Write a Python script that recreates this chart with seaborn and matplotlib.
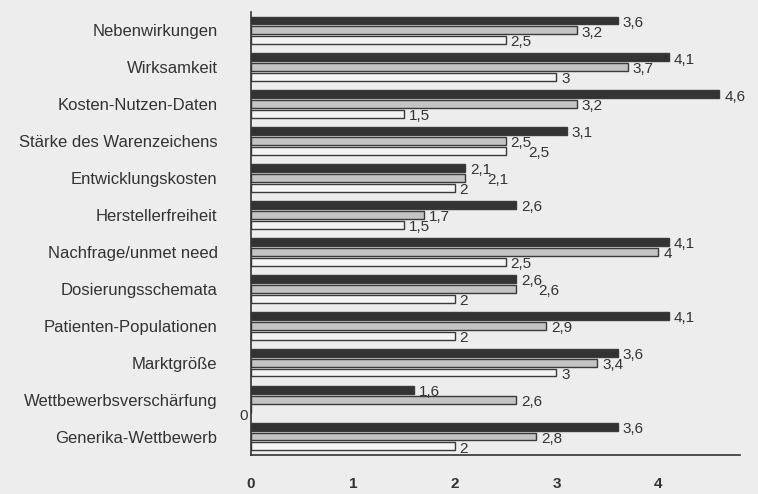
import matplotlib
matplotlib.use("Agg")
import matplotlib.pyplot as plt
import numpy as np
import pandas as pd
import seaborn as sns

categories = [
    "Nebenwirkungen",
    "Wirksamkeit",
    "Kosten-Nutzen-Daten",
    "Stärke des Warenzeichens",
    "Entwicklungskosten",
    "Herstellerfreiheit",
    "Nachfrage/unmet need",
    "Dosierungsschemata",
    "Patienten-Populationen",
    "Marktgröße",
    "Wettbewerbsverschärfung",
    "Generika-Wettbewerb",
]
series_names = ["Reihe 1", "Reihe 2", "Reihe 3"]
reihe_1 = [3.6, 4.1, 4.6, 3.1, 2.1, 2.6, 4.1, 2.6, 4.1, 3.6, 1.6, 3.6]
reihe_2 = [3.2, 3.7, 3.2, 2.5, 2.1, 1.7, 4.0, 2.6, 2.9, 3.4, 2.6, 2.8]
reihe_3 = [2.5, 3.0, 1.5, 2.5, 2.0, 1.5, 2.5, 2.0, 2.0, 3.0, 0.0, 2.0]
x_ticks = [0, 1, 2, 3, 4]

colors = ["#333333", "#c4c4c4", "#f4f4f4"]
bg = "#ededed"
ink = "#333333"

df = pd.DataFrame({
    "Kriterium": categories * 3,
    "Wert": reihe_1 + reihe_2 + reihe_3,
    "Reihe": [s for s in series_names for _ in categories],
})

sns.set_theme(style="white")
plt.rcParams["font.family"] = ["Liberation Sans", "DejaVu Sans"]

fig = plt.figure(figsize=(7.58, 4.94), dpi=100, facecolor=bg)
ax = fig.add_axes([0.331, 0.079, 0.645, 0.897], facecolor=bg)

sns.barplot(data=df, x="Wert", y="Kriterium", hue="Reihe", order=categories,
            hue_order=series_names, palette=colors, orient="h", width=0.8,
            gap=0.2, edgecolor="#3a3a3a", linewidth=1.0, legend=False, ax=ax)

ax.set_xlim(0, 4.8)
ax.set_ylim(len(categories) - 0.5, -0.5)
ax.set_xlabel("")
ax.set_ylabel("")

for side in ["top", "right"]:
    ax.spines[side].set_visible(False)
for side in ["left", "bottom"]:
    ax.spines[side].set_color(ink)
    ax.spines[side].set_linewidth(1.2)

ax.set_xticks(x_ticks)
ax.set_xticklabels([str(t) for t in x_ticks], fontsize=11, fontweight="bold", color=ink)
ax.tick_params(axis="x", direction="inout", length=5, width=1, color=ink, pad=13)
ax.tick_params(axis="y", length=0, pad=24, labelsize=12, labelcolor=ink)
ax.set_yticks(np.arange(len(categories) + 1) - 0.5, minor=True)
ax.tick_params(axis="y", which="minor", direction="out", length=4, width=1, color=ink)

# value labels with comma decimal, nudge right when repeating the bar above
groups = [reihe_1, reihe_2, reihe_3]
for si, cont in enumerate(ax.containers):
    for ci, bar in enumerate(cont):
        v = groups[si][ci]
        y = bar.get_y() + bar.get_height() / 2 + 0.06
        txt = f"{v:g}".replace(".", ",")
        if v == 0:
            ax.text(-0.03, y + 0.12, txt, ha="right", va="center", fontsize=11,
                    color=ink, clip_on=False)
            continue
        dx = 0.05
        if si > 0 and groups[si - 1][ci] == v:
            dx = 0.22
        ax.text(v + dx, y, txt, ha="left", va="center", fontsize=11, color=ink)

fig.savefig("out.png", dpi=100, facecolor=bg)
